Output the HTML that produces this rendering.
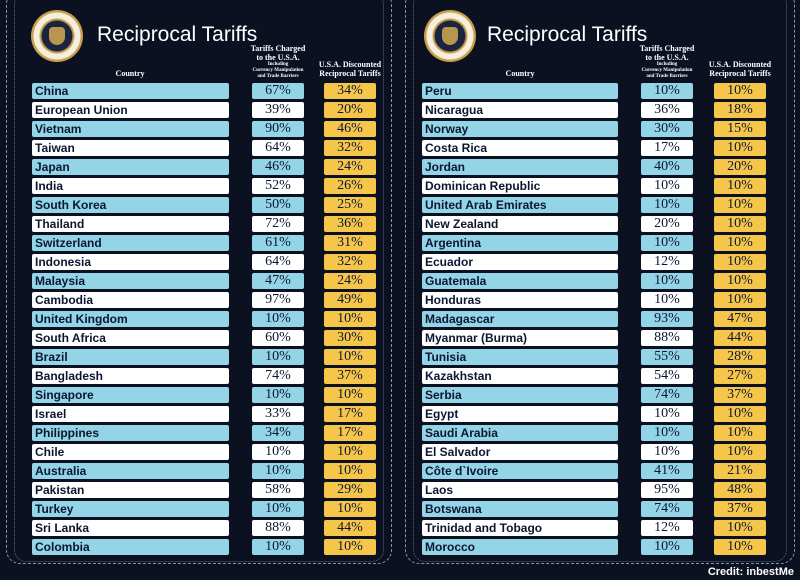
<!DOCTYPE html><html><head><style>
body{margin:0;width:800px;height:580px;background:#0c1122;overflow:hidden;font-family:"Liberation Sans",sans-serif;position:relative}
.p{position:absolute;top:-10px;height:574px;border:1px dashed #8a93b0;border-radius:14px;box-sizing:border-box}
.p2{position:absolute;top:-8px;height:570px;border:1px dotted #5a6383;border-radius:12px;box-sizing:border-box}
.seal{position:absolute;width:52px;height:52px;border-radius:50%;background:radial-gradient(circle,#1a2440 0 15px,#c8a04a 16px 17px,#f4f0e0 18px 23px,#c8a04a 24px 26px);top:10px}
.seal:after{content:"";position:absolute;left:18px;top:17px;width:16px;height:18px;background:#b8964e;border-radius:4px 4px 8px 8px}
.t{position:absolute;top:23px;color:#fff;font-size:21px;font-family:"Liberation Sans",sans-serif}
.h{position:absolute;color:#fff;font-family:"Liberation Serif",serif;font-weight:bold;font-size:8px;text-align:center;line-height:9px}
.h small{font-size:5px;line-height:6px;display:block}
.b{position:absolute;height:16px;border-radius:2px;box-sizing:border-box;font-size:12px;line-height:16px;color:#0c1630}
.c{font-weight:bold;padding-left:3px;font-family:"Liberation Sans",sans-serif}
.n{text-align:center;font-family:"Liberation Serif",serif;font-size:14px}
.bl{background:#93d4e6}.w{background:#fff}.y{background:#f6c64b}
.cr{position:absolute;right:6px;top:566px;color:#fff;font-size:11px;font-weight:bold}
</style></head><body>
<div class="p" style="left:6px;width:386px"></div>
<div class="p2" style="left:14px;width:370px"></div>
<div class="p" style="left:405px;width:390px"></div>
<div class="p2" style="left:413px;width:374px"></div>
<div class="seal" style="left:31px"></div><div class="t" style="left:97px">Reciprocal Tariffs</div>
<div class="seal" style="left:424px"></div><div class="t" style="left:487px">Reciprocal Tariffs</div>
<div class="h" style="left:100px;top:69px;width:60px">Country</div>
<div class="h" style="left:240px;top:44px;width:76px">Tariffs Charged<br>to the U.S.A.<small>Including<br>Currency Manipulation<br>and Trade Barriers</small></div>
<div class="h" style="left:310px;top:60px;width:80px">U.S.A. Discounted<br>Reciprocal Tariffs</div>
<div class="h" style="left:490px;top:69px;width:60px">Country</div>
<div class="h" style="left:629px;top:44px;width:76px">Tariffs Charged<br>to the U.S.A.<small>Including<br>Currency Manipulation<br>and Trade Barriers</small></div>
<div class="h" style="left:700px;top:60px;width:80px">U.S.A. Discounted<br>Reciprocal Tariffs</div>
<div id="rows"></div>
<div class="cr">Credit: inbestMe</div>
<script>
var L=[["China",67,34],["European Union",39,20],["Vietnam",90,46],["Taiwan",64,32],["Japan",46,24],["India",52,26],["South Korea",50,25],["Thailand",72,36],["Switzerland",61,31],["Indonesia",64,32],["Malaysia",47,24],["Cambodia",97,49],["United Kingdom",10,10],["South Africa",60,30],["Brazil",10,10],["Bangladesh",74,37],["Singapore",10,10],["Israel",33,17],["Philippines",34,17],["Chile",10,10],["Australia",10,10],["Pakistan",58,29],["Turkey",10,10],["Sri Lanka",88,44],["Colombia",10,10]];
var R=[["Peru",10,10],["Nicaragua",36,18],["Norway",30,15],["Costa Rica",17,10],["Jordan",40,20],["Dominican Republic",10,10],["United Arab Emirates",10,10],["New Zealand",20,10],["Argentina",10,10],["Ecuador",12,10],["Guatemala",10,10],["Honduras",10,10],["Madagascar",93,47],["Myanmar (Burma)",88,44],["Tunisia",55,28],["Kazakhstan",54,27],["Serbia",74,37],["Egypt",10,10],["Saudi Arabia",10,10],["El Salvador",10,10],["Côte d`Ivoire",41,21],["Laos",95,48],["Botswana",74,37],["Trinidad and Tobago",12,10],["Morocco",10,10]];
var h="";
function f(a,x){a.forEach(function(r,i){var t=83+i*19,k=i%2?"w":"bl";
h+='<div class="b c '+k+'" style="left:'+x[0]+'px;width:'+(x[1]-x[0])+'px;top:'+t+'px">'+r[0]+'</div>';
h+='<div class="b n '+k+'" style="left:'+x[2]+'px;width:52px;top:'+t+'px">'+r[1]+'%</div>';
h+='<div class="b n y" style="left:'+x[3]+'px;width:52px;top:'+t+'px">'+r[2]+'%</div>';});}
f(L,[32,229,252,324]);f(R,[422,618,641,714]);
document.getElementById("rows").innerHTML=h;
</script></body></html>
